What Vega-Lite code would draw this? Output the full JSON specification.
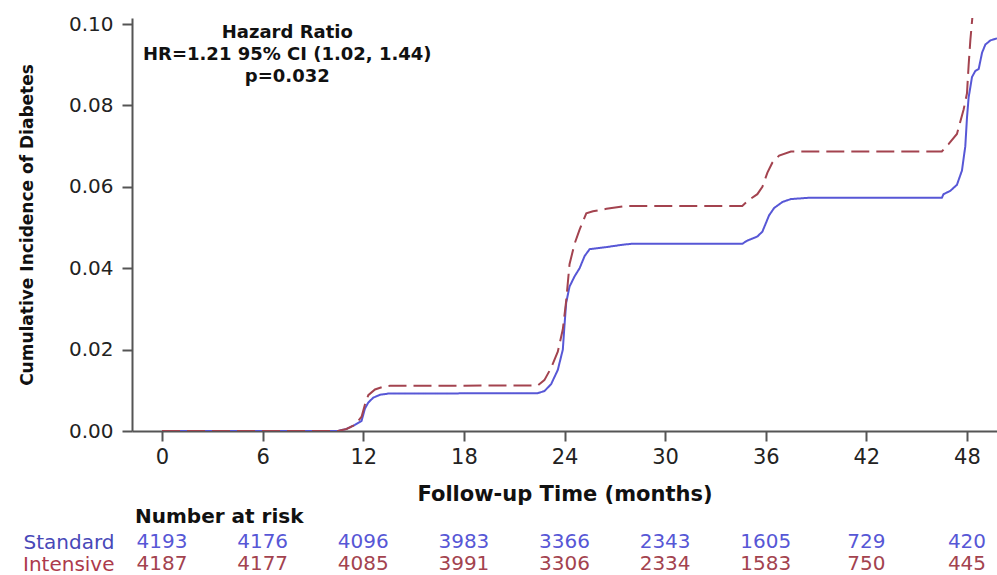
{
  "$schema": "https://vega.github.io/schema/vega-lite/v6.json",
  "background": "white",
  "padding": {"left": 18, "top": 14, "right": 0, "bottom": 0},
  "autosize": {"type": "pad"},
  "spacing": 3,
  "config": {
    "view": {"stroke": null},
    "font": "DejaVu Sans",
    "axis": {"grid": false, "labelFont": "DejaVu Sans", "titleFont": "DejaVu Sans", "domainColor": "#555555", "tickColor": "#555555", "domainWidth": 2, "tickWidth": 2, "labelColor": "#222222", "titleColor": "#111111"}
  },
  "datasets": {
    "curves": [
      {"group": "Standard", "t": 0, "v": 0},
      {"group": "Standard", "t": 10.5, "v": 0},
      {"group": "Standard", "t": 11.0, "v": 0.0005},
      {"group": "Standard", "t": 11.5, "v": 0.0015},
      {"group": "Standard", "t": 11.9, "v": 0.0025},
      {"group": "Standard", "t": 12.1, "v": 0.0055},
      {"group": "Standard", "t": 12.3, "v": 0.007},
      {"group": "Standard", "t": 12.6, "v": 0.0082},
      {"group": "Standard", "t": 13.0, "v": 0.0089},
      {"group": "Standard", "t": 13.5, "v": 0.0092},
      {"group": "Standard", "t": 22.4, "v": 0.0093},
      {"group": "Standard", "t": 22.8, "v": 0.0098},
      {"group": "Standard", "t": 23.2, "v": 0.0115},
      {"group": "Standard", "t": 23.6, "v": 0.015},
      {"group": "Standard", "t": 23.9, "v": 0.02},
      {"group": "Standard", "t": 24.0, "v": 0.026},
      {"group": "Standard", "t": 24.1, "v": 0.0315},
      {"group": "Standard", "t": 24.3, "v": 0.0355},
      {"group": "Standard", "t": 24.6, "v": 0.038},
      {"group": "Standard", "t": 24.9, "v": 0.04},
      {"group": "Standard", "t": 25.2, "v": 0.043},
      {"group": "Standard", "t": 25.5, "v": 0.0447},
      {"group": "Standard", "t": 26.5, "v": 0.0452},
      {"group": "Standard", "t": 27.5, "v": 0.0458},
      {"group": "Standard", "t": 28.0, "v": 0.046},
      {"group": "Standard", "t": 34.6, "v": 0.046},
      {"group": "Standard", "t": 34.9, "v": 0.0468},
      {"group": "Standard", "t": 35.5, "v": 0.0478},
      {"group": "Standard", "t": 35.8, "v": 0.049},
      {"group": "Standard", "t": 36.0, "v": 0.051},
      {"group": "Standard", "t": 36.2, "v": 0.053},
      {"group": "Standard", "t": 36.5, "v": 0.0548},
      {"group": "Standard", "t": 37.0, "v": 0.0563},
      {"group": "Standard", "t": 37.5, "v": 0.057},
      {"group": "Standard", "t": 38.5, "v": 0.0573},
      {"group": "Standard", "t": 46.5, "v": 0.0573},
      {"group": "Standard", "t": 46.6, "v": 0.0582},
      {"group": "Standard", "t": 47.0, "v": 0.059},
      {"group": "Standard", "t": 47.4, "v": 0.0605},
      {"group": "Standard", "t": 47.7, "v": 0.064},
      {"group": "Standard", "t": 47.9, "v": 0.07},
      {"group": "Standard", "t": 48.0, "v": 0.077},
      {"group": "Standard", "t": 48.1, "v": 0.082},
      {"group": "Standard", "t": 48.3, "v": 0.087},
      {"group": "Standard", "t": 48.5, "v": 0.0885},
      {"group": "Standard", "t": 48.7, "v": 0.089},
      {"group": "Standard", "t": 48.9, "v": 0.093},
      {"group": "Standard", "t": 49.1, "v": 0.095},
      {"group": "Standard", "t": 49.4, "v": 0.096},
      {"group": "Standard", "t": 49.79, "v": 0.0965},
      {"group": "Intensive", "t": 0, "v": 0},
      {"group": "Intensive", "t": 10.5, "v": 0},
      {"group": "Intensive", "t": 11.0, "v": 0.0005},
      {"group": "Intensive", "t": 11.5, "v": 0.0015},
      {"group": "Intensive", "t": 11.9, "v": 0.0035},
      {"group": "Intensive", "t": 12.1, "v": 0.0065},
      {"group": "Intensive", "t": 12.3, "v": 0.0088},
      {"group": "Intensive", "t": 12.7, "v": 0.0102},
      {"group": "Intensive", "t": 13.2, "v": 0.0109},
      {"group": "Intensive", "t": 13.6, "v": 0.0111},
      {"group": "Intensive", "t": 22.4, "v": 0.0112},
      {"group": "Intensive", "t": 22.8, "v": 0.0125},
      {"group": "Intensive", "t": 23.2, "v": 0.0155},
      {"group": "Intensive", "t": 23.6, "v": 0.0195},
      {"group": "Intensive", "t": 23.9, "v": 0.025},
      {"group": "Intensive", "t": 24.1, "v": 0.032},
      {"group": "Intensive", "t": 24.3, "v": 0.041},
      {"group": "Intensive", "t": 24.6, "v": 0.046},
      {"group": "Intensive", "t": 24.9, "v": 0.0495},
      {"group": "Intensive", "t": 25.3, "v": 0.0535},
      {"group": "Intensive", "t": 25.7, "v": 0.054},
      {"group": "Intensive", "t": 26.5, "v": 0.0546},
      {"group": "Intensive", "t": 27.7, "v": 0.0553},
      {"group": "Intensive", "t": 34.6, "v": 0.0553},
      {"group": "Intensive", "t": 35.0, "v": 0.0568},
      {"group": "Intensive", "t": 35.5, "v": 0.0582},
      {"group": "Intensive", "t": 35.8, "v": 0.06},
      {"group": "Intensive", "t": 36.1, "v": 0.0635},
      {"group": "Intensive", "t": 36.4, "v": 0.066},
      {"group": "Intensive", "t": 36.8, "v": 0.0677},
      {"group": "Intensive", "t": 37.5, "v": 0.0687},
      {"group": "Intensive", "t": 46.5, "v": 0.0687},
      {"group": "Intensive", "t": 46.9, "v": 0.0705},
      {"group": "Intensive", "t": 47.4, "v": 0.073},
      {"group": "Intensive", "t": 47.6, "v": 0.076},
      {"group": "Intensive", "t": 47.8, "v": 0.079},
      {"group": "Intensive", "t": 48.0, "v": 0.083},
      {"group": "Intensive", "t": 48.1, "v": 0.09},
      {"group": "Intensive", "t": 48.2, "v": 0.096},
      {"group": "Intensive", "t": 48.35, "v": 0.103}
    ],
    "risk": [
      {"group": "Standard", "t": 0, "n": 4193},
      {"group": "Standard", "t": 6, "n": 4176},
      {"group": "Standard", "t": 12, "n": 4096},
      {"group": "Standard", "t": 18, "n": 3983},
      {"group": "Standard", "t": 24, "n": 3366},
      {"group": "Standard", "t": 30, "n": 2343},
      {"group": "Standard", "t": 36, "n": 1605},
      {"group": "Standard", "t": 42, "n": 729},
      {"group": "Standard", "t": 48, "n": 420},
      {"group": "Intensive", "t": 0, "n": 4187},
      {"group": "Intensive", "t": 6, "n": 4177},
      {"group": "Intensive", "t": 12, "n": 4085},
      {"group": "Intensive", "t": 18, "n": 3991},
      {"group": "Intensive", "t": 24, "n": 3306},
      {"group": "Intensive", "t": 30, "n": 2334},
      {"group": "Intensive", "t": 36, "n": 1583},
      {"group": "Intensive", "t": 42, "n": 750},
      {"group": "Intensive", "t": 48, "n": 445}
    ]
  },
  "vconcat": [
    {
      "width": 865,
      "height": 413,
      "layer": [
        {
          "data": {"name": "curves"},
          "mark": {"type": "line", "clip": true, "strokeWidth": 2},
          "encoding": {
            "x": {
              "field": "t", "type": "quantitative",
              "scale": {"domain": [-1.79, 49.79], "nice": false, "zero": false},
              "axis": {"title": "Follow-up Time (months)", "titleFontSize": 21, "titleFontWeight": "bold", "titlePadding": 16, "values": [0, 6, 12, 18, 24, 30, 36, 42, 48], "labelFontSize": 21, "tickSize": 10, "labelPadding": 5}
            },
            "y": {
              "field": "v", "type": "quantitative",
              "scale": {"domain": [0, 0.1015], "nice": false},
              "axis": {"title": "Cumulative Incidence of Diabetes", "titleFontSize": 17, "titleFontWeight": "bold", "titlePadding": 32, "values": [0, 0.02, 0.04, 0.06, 0.08, 0.1], "format": ".2f", "labelFontSize": 20, "tickSize": 10, "labelPadding": 9}
            },
            "color": {"field": "group", "type": "nominal", "scale": {"domain": ["Standard", "Intensive"], "range": ["#5757d6", "#a3434f"]}, "legend": null},
            "strokeDash": {"field": "group", "type": "nominal", "scale": {"domain": ["Standard", "Intensive"], "range": [[1, 0], [18, 7]]}, "legend": null}
          }
        },
        {
          "data": {"values": [{"label": "Hazard Ratio"}]},
          "mark": {"type": "text", "font": "DejaVu Sans", "fontWeight": "bold", "fontSize": 18, "lineHeight": 22, "baseline": "top", "align": "center", "color": "#111111"},
          "encoding": {
            "x": {"datum": 7.47, "type": "quantitative"},
            "y": {"datum": 0.1, "type": "quantitative"},
            "text": {"value": ["Hazard Ratio", "HR=1.21 95% CI (1.02, 1.44)", "p=0.032"]}
          }
        }
      ]
    },
    {
      "width": 865,
      "height": 44,
      "data": {"name": "risk"},
      "title": {"text": "Number at risk", "anchor": "start", "frame": "group", "fontSize": 20, "fontWeight": "bold", "font": "DejaVu Sans", "color": "#111111", "offset": 4, "dx": 3},
      "mark": {"type": "text", "fontSize": 20, "font": "DejaVu Sans"},
      "encoding": {
        "x": {"field": "t", "type": "quantitative", "scale": {"domain": [-1.79, 49.79], "nice": false, "zero": false}, "axis": null},
        "y": {"field": "group", "type": "nominal", "scale": {"domain": ["Standard", "Intensive"]},
          "axis": {"title": null, "domain": false, "ticks": false, "tickSize": 0, "labelPadding": 18, "labelFontSize": 20, "labelColor": {"expr": "datum.value === 'Standard' ? '#4848b8' : '#ad3a4c'"}}},
        "text": {"field": "n", "type": "nominal"},
        "color": {"field": "group", "type": "nominal", "scale": {"domain": ["Standard", "Intensive"], "range": ["#4848b8", "#ad3a4c"]}, "legend": null}
      }
    }
  ]
}
